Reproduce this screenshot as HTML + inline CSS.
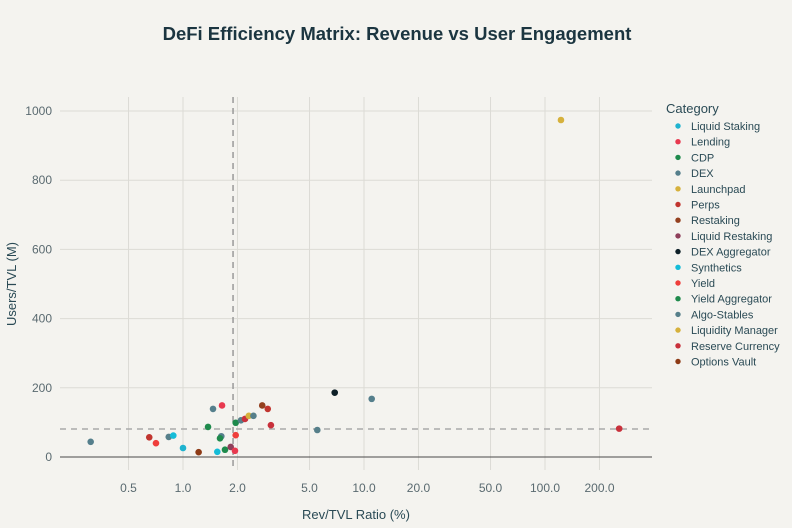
<!DOCTYPE html>
<html><head><meta charset="utf-8"><style>
body{margin:0;background:#f4f3ef;font-family:"Liberation Sans",sans-serif;}
svg{display:block}
</style></head><body>
<svg id="chart" width="792" height="528" xmlns="http://www.w3.org/2000/svg">
<rect width="792" height="528" fill="#f4f3ef"/>
<text x="397" y="40" text-anchor="middle" font-size="18.5" font-weight="bold" fill="#1b3540">DeFi Efficiency Matrix: Revenue vs User Engagement</text>
<g id="grid"></g><g id="marks"></g><g id="legend"></g>
<text x="356" y="519" text-anchor="middle" font-size="13" fill="#2a4a55">Rev/TVL Ratio (%)</text>
<text transform="translate(16,284) rotate(-90)" text-anchor="middle" font-size="13" fill="#2a4a55">Users/TVL (M)</text>
</svg>
<script>
const categories=["Liquid Staking","Lending","CDP","DEX","Launchpad","Perps","Restaking","Liquid Restaking","DEX Aggregator","Synthetics","Yield","Yield Aggregator","Algo-Stables","Liquidity Manager","Reserve Currency","Options Vault"];
const colors=["#1fb3cf","#e8394f","#1e8a4c","#557f8c","#d6b13c","#c1352f","#94401f","#8e3f5a","#0e2028","#14bcd8","#ef3e3b","#1f8a4c","#567f8a","#d6b13c","#c8303b","#8d3a15"];
const xVals=[0.309,0.651,0.709,0.834,0.884,1.00,1.22,1.375,1.465,1.643,1.547,1.628,1.601,1.706,1.835,1.937,1.955,1.955,2.09,2.20,2.31,2.45,2.74,2.94,3.06,6.89,11.03,5.52,257,122.5];
const yVals=[44,57,40,58,62,26,14,87,139,149,15,60,54,21,29,18,63,99,106,110,119,119,149,139,92,186,168,78,82,974];
const pointCat=[3,5,10,12,9,0,15,2,3,1,9,3,11,2,7,1,10,2,12,14,13,12,6,5,14,8,3,12,14,4];
const xTicks=[0.5,1,2,5,10,20,50,100,200];
const xTickLabels=["0.5","1.0","2.0","5.0","10.0","20.0","50.0","100.0","200.0"];
const yTicks=[0,200,400,600,800,1000];
const xMedian=[1.89];
const yMedian=[81];
const L=60,R=652,T=97,B=470;
function xs(v){return 183+181*Math.log10(v);}
function ys(v){return 457-0.346*v;}
const NS="http://www.w3.org/2000/svg";
function mk(p,t,a){const e=document.createElementNS(NS,t);for(const k in a)e.setAttribute(k,a[k]);p.appendChild(e);return e;}
const g=document.getElementById('grid');
xTicks.forEach((v,i)=>{
 const l=mk(g,'line',{x1:xs(v),x2:xs(v),y1:T,y2:B,stroke:'#dcdbd5','stroke-width':1});
 
 
 const t=mk(g,'text',{x:xs(v),y:492,'text-anchor':'middle','font-size':12,fill:'#5a6a70'});
 t.textContent=xTickLabels[i];
 
 
});
yTicks.forEach(v=>{
 const l=mk(g,'line',{x1:L,x2:R,y1:ys(v),y2:ys(v),stroke:v===0?'#4a4a4a':'#dcdbd5','stroke-width':1});
 
 
 const t=mk(g,'text',{x:52,y:ys(v)+4,'text-anchor':'end','font-size':12,fill:'#5a6a70'});
 t.textContent=v;
 
 
});
const vm=mk(g,'line',{x1:xs(xMedian[0]),x2:xs(xMedian[0]),y1:T,y2:B,stroke:'#999','stroke-width':1.5,'stroke-dasharray':'6,5'});


const hm=mk(g,'line',{x1:L,x2:R,y1:ys(yMedian[0]),y2:ys(yMedian[0]),stroke:'#aaa','stroke-width':1.5,'stroke-dasharray':'6,5'});


const m=document.getElementById('marks');
xVals.forEach((v,i)=>{
 const c=mk(m,'circle',{cx:xs(v),cy:ys(yVals[i]),r:3.3,fill:colors[pointCat[i]]});
 
 
});
const lg=document.getElementById('legend');
const lt=mk(lg,'text',{x:666,y:113,'font-size':13,fill:'#2a4a55'});
lt.textContent='Category';


categories.forEach((c,i)=>{
 const y=126+i*15.7;
 const d=mk(lg,'circle',{cx:678,cy:y,r:2.7,fill:colors[i]});
 
 
 const t=mk(lg,'text',{x:691,y:y+4,'font-size':11,fill:'#2a4a55'});
 t.textContent=c;
 
 
});
</script>
</body></html>
